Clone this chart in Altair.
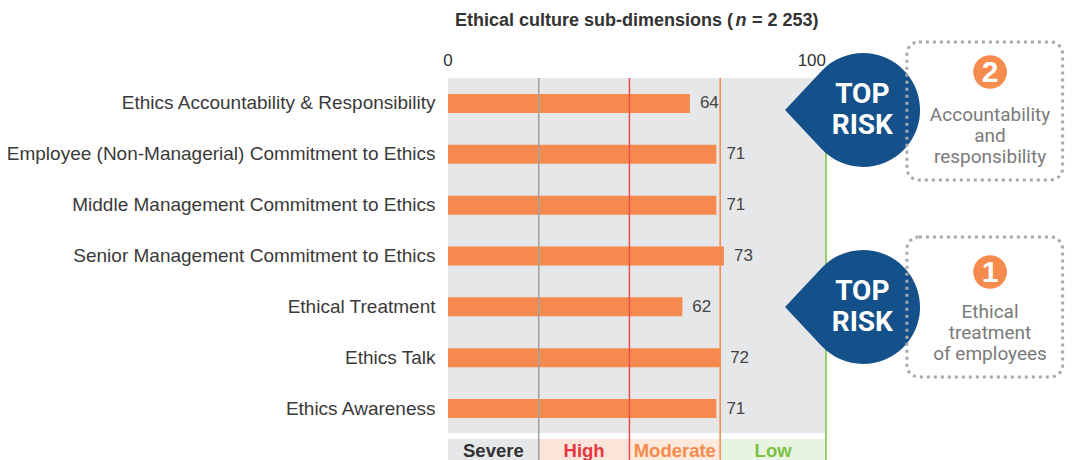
import altair as alt
import pandas as pd

# ---------------- data ----------------
categories = [
    "Ethics Accountability & Responsibility",
    "Employee (Non-Managerial) Commitment to Ethics",
    "Middle Management Commitment to Ethics",
    "Senior Management Commitment to Ethics",
    "Ethical Treatment",
    "Ethics Talk",
    "Ethics Awareness",
]
scores = [64, 71, 71, 73, 62, 72, 71]

band_names = ["Severe", "High", "Moderate", "Low"]
band_starts = [0, 24, 48, 72]
band_ends = [24, 48, 72, 100]
band_fill = ["#e6e7e8", "#fde4da", "#fee9dc", "#e9f3e1"]
band_text = ["#333333", "#e8353f", "#f58b4c", "#7ac143"]
band_line = ["#a0a0a0", "#ec4b4f", "#f68a4f", "#7ac143"]

axis_ticks = [0, 100]
axis_tick_align = ["center", "right"]
title_pre = "Ethical culture sub-dimensions ("
title_n = "n"
title_post = "= 2 253)"

callout_numbers = ["2", "1"]
callout_lines = [["Accountability", "and", "responsibility"],
                 ["Ethical", "treatment", "of employees"]]

# ---------------- layout ----------------
PX_PER_UNIT = 3.78
W = 617
H = 356
X_MAX = W / PX_PER_UNIT
BLUE = "#14508a"
ORANGE = "#f68a4e"
FONT = "Liberation Sans"
NARROW = "Roboto, 'Liberation Sans', sans-serif"

xscale = alt.Scale(domain=[0, X_MAX], nice=False, zero=False)

df = pd.DataFrame({"cat": categories, "score": scores})
bands = pd.DataFrame({"name": band_names, "start": band_starts, "end": band_ends,
                      "fill": band_fill, "tcol": band_text, "lcol": band_line})
bands["mid"] = (bands["start"] + bands["end"]) / 2
ticks_df = pd.DataFrame({"v": axis_ticks, "al": axis_tick_align})

yenc = alt.Y("cat:N", sort=categories,
             scale=alt.Scale(paddingInner=0, paddingOuter=0),
             axis=alt.Axis(title=None, labelFontSize=19, labelColor="#3a3a3a",
                           labelFont=FONT, labelPadding=13, ticks=False,
                           domain=False, labelLimit=600))

# gray background 0..100
bg = alt.Chart(pd.DataFrame({"a": [0], "b": [100]})).mark_rect(color="#e6e7e8").encode(
    x=alt.X("a:Q", scale=xscale, axis=None), x2="b:Q",
    y=alt.value(0), y2=alt.value(H - 1))

# top tick labels (0 and 100)
tick_layers = []
for v, al in zip(axis_ticks, axis_tick_align):
    tick_layers.append(
        alt.Chart(ticks_df[ticks_df.v == v]).mark_text(
            fontSize=17, font=FONT, color="#333333", align=al, baseline="middle").encode(
            x=alt.X("v:Q", scale=xscale, axis=None),
            y=alt.value(-17), text="v:Q"))

# legend band blocks
legend_rects = alt.Chart(bands).mark_rect().encode(
    x=alt.X("start:Q", scale=xscale, axis=None), x2="end:Q",
    y=alt.value(361), y2=alt.value(382),
    color=alt.Color("fill:N", scale=None))

legend_text = alt.Chart(bands).mark_text(fontSize=18.5, fontWeight="bold", font=FONT,
                                         baseline="middle").encode(
    x=alt.X("mid:Q", scale=xscale, axis=None),
    y=alt.value(373),
    text="name:N",
    color=alt.Color("tcol:N", scale=None))

bars = alt.Chart(df).mark_bar(size=19, color=ORANGE).encode(
    x=alt.X("score:Q", scale=xscale, axis=None),
    y=yenc)

rules = alt.Chart(bands).mark_rule(strokeWidth=1.5).encode(
    x=alt.X("end:Q", scale=xscale, axis=None),
    y=alt.value(0), y2=alt.value(382),
    color=alt.Color("lcol:N", scale=None))

values = alt.Chart(df).mark_text(align="left", dx=10, fontSize=17, color="#444444",
                                 font=FONT, baseline="middle").encode(
    x=alt.X("score:Q", scale=xscale, axis=None),
    y=alt.Y("cat:N", sort=categories),
    text="score:Q")

# title pieces
def tx(xv, text, **kw):
    return alt.Chart(pd.DataFrame({"x": [xv], "t": [text]})).mark_text(**kw).encode(
        x=alt.X("x:Q", scale=xscale, axis=None), y=alt.value(-57), text="t:N")

tstyle = dict(fontSize=18, fontWeight="bold", font=FONT, color="#333333", baseline="middle")
t1 = tx(75.4, title_pre, align="right", **tstyle)
t2 = tx(77.5, title_n, align="center", fontStyle="italic", **tstyle)
t3 = tx(80.4, title_post, align="left", **tstyle)

# callouts
TEAR = "M-1.368,0L-0.731,-0.682A1,1,0,1,1,-0.731,0.682Z"
callout_layers = []
tear_y = [32, 229]
num_y = [-6, 194]
line_y0 = [37, 234]
for i in range(2):
    cy = tear_y[i]
    one = pd.DataFrame({"x": [109.8]})
    callout_layers.append(
        alt.Chart(one).mark_point(shape=TEAR, size=12996, filled=True, fill=BLUE,
                                  opacity=1, strokeWidth=0).encode(
            x=alt.X("x:Q", scale=xscale, axis=None), y=alt.value(cy)))
    for j, word in enumerate(["TOP", "RISK"]):
        callout_layers.append(
            alt.Chart(pd.DataFrame({"x": [109.6], "t": [word]})).mark_text(
                font=NARROW, fontSize=28, fontWeight="bold", color="white",
                baseline="middle").encode(
                x=alt.X("x:Q", scale=xscale, axis=None),
                y=alt.value(cy - 15 + 31 * j), text="t:N"))
    # dotted box
    box_top = [-36, 159][i]
    box_bot = [102, 299][i]
    callout_layers.append(
        alt.Chart(pd.DataFrame({"a": [121.4], "b": [162.6]})).mark_rect(
            fill="white", fillOpacity=0, stroke="#a7a9ac", strokeWidth=3,
            strokeDash=[3, 4], cornerRadius=12).encode(
            x=alt.X("a:Q", scale=xscale, axis=None), x2="b:Q",
            y=alt.value(box_top), y2=alt.value(box_bot)))
    # orange numbered circle
    callout_layers.append(
        alt.Chart(pd.DataFrame({"x": [143.4]})).mark_circle(
            size=1134, color="#f58b4c", opacity=1).encode(
            x=alt.X("x:Q", scale=xscale, axis=None), y=alt.value(num_y[i])))
    callout_layers.append(
        alt.Chart(pd.DataFrame({"x": [143.4], "t": [callout_numbers[i]]})).mark_text(
            font=FONT, fontSize=30, fontWeight="bold", color="white",
            baseline="middle").encode(
            x=alt.X("x:Q", scale=xscale, axis=None),
            y=alt.value(num_y[i] + 1), text="t:N"))
    for j, line in enumerate(callout_lines[i]):
        callout_layers.append(
            alt.Chart(pd.DataFrame({"x": [143.4], "t": [line]})).mark_text(
                font=NARROW, fontSize=19, color="#7a7a7a", baseline="middle").encode(
                x=alt.X("x:Q", scale=xscale, axis=None),
                y=alt.value(line_y0[i] + 21 * j), text="t:N"))

chart = alt.layer(bg, *tick_layers, legend_rects, legend_text, bars, rules, values,
                  t1, t2, t3, *callout_layers).properties(
    width=W, height=H,
    autosize=alt.AutoSizeParams(type="none"),
    padding={"left": 440, "top": 70, "right": 0, "bottom": 26},
    background="white",
).configure_view(stroke=None)

chart.save("out.html", embed_options={"renderer": "svg", "actions": False})
